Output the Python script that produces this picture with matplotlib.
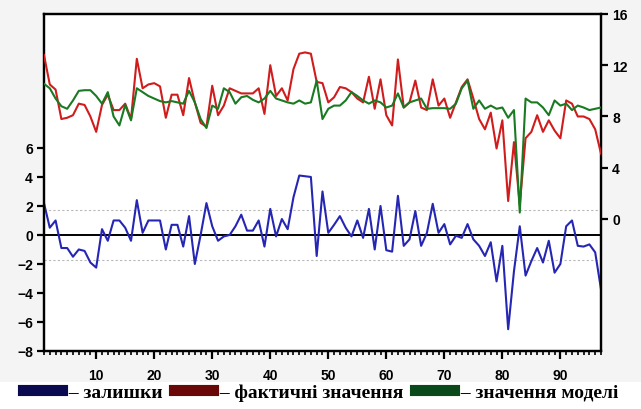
import numpy as np
import matplotlib.pyplot as plt
from matplotlib.patches import Rectangle
from matplotlib.ticker import MultipleLocator

# спостереження 1..97
obs = np.arange(1, 98)

# залишки (ліва вісь)
resid = [2.2, 0.5, 1.0, -0.9, -0.9, -1.5, -1.0, -1.1, -1.9, -2.25,
         0.4, -0.4, 1.0, 1.0, 0.5, -0.4, 2.4, 0.15, 1.0, 1.0,
         1.0, -1.0, 0.7, 0.7, -0.8, 1.3, -2.0, 0.0, 2.2, 0.6,
         -0.4, -0.1, 0.0, 0.6, 1.4, 0.3, 0.3, 1.0, -0.8, 1.8,
         -0.1, 1.1, 0.4, 2.6, 4.1, 4.05, 4.0, -1.45, 3.0, 0.15,
         0.7, 1.3, 0.5, -0.1, 1.0, -0.2, 1.8, -1.0, 2.0, -1.05,
         -1.15, 2.7, -0.75, -0.3, 1.65, -0.75, 0.15, 2.15, 0.15, 0.75,
         -0.65, -0.05, -0.2, 0.75, -0.3, -0.75, -1.45, -0.5, -3.2, -0.75,
         -6.5, -2.5, 0.6, -2.8, -1.8, -0.9, -1.9, -0.4, -2.6, -2.0,
         0.6, 1.0, -0.75, -0.8, -0.65, -1.2, -3.75]

# фактичні значення (права вісь)
actual = [12.8, 10.5, 10.1, 7.8, 7.9, 8.1, 9.0, 8.9, 8.0, 6.8,
          8.9, 9.7, 8.5, 8.5, 9.0, 7.8, 12.5, 10.2, 10.5, 10.6,
          10.35, 7.9, 9.7, 9.7, 8.1, 11.0, 9.1, 7.5, 7.2, 10.4,
          8.1, 8.85, 10.2, 10.0, 9.8, 9.8, 9.8, 10.2, 8.2, 12.0,
          9.6, 10.2, 9.25, 11.7, 12.9, 13.0, 12.9, 10.7, 10.6, 9.1,
          9.5, 10.3, 10.2, 9.9, 9.4, 9.1, 11.1, 8.6, 10.9, 8.1,
          7.3, 12.45, 8.7, 9.1, 10.8, 8.7, 8.5, 10.9, 8.85, 9.4,
          7.9, 9.1, 10.3, 10.9, 9.4, 7.8, 7.0, 8.3, 5.5, 7.7,
          1.4, 6.0, 1.1, 6.3, 6.8, 8.1, 6.8, 7.7, 6.9, 6.3,
          9.25, 9.0, 8.0, 8.0, 7.8, 7.0, 5.1]

# значення моделі (права вісь)
fitted = [10.55, 10.2, 9.4, 8.8, 8.6, 9.25, 10.0, 10.05, 10.05, 9.6,
          9.0, 9.9, 8.0, 7.3, 8.9, 7.7, 10.2, 9.9, 9.6, 9.4,
          9.2, 9.1, 9.2, 9.1, 9.0, 10.0, 9.1, 7.8, 7.1, 8.85,
          8.6, 10.2, 9.9, 9.0, 9.5, 9.6, 9.3, 9.1, 9.4, 10.0,
          9.4, 9.25, 9.1, 9.0, 9.25, 9.0, 9.1, 10.8, 7.8, 8.6,
          8.85, 8.85, 9.25, 9.9, 9.6, 9.25, 9.0, 9.25, 9.1, 8.7,
          8.85, 9.8, 8.7, 9.1, 9.25, 9.4, 8.6, 8.65, 8.65, 8.65,
          8.6, 9.0, 10.2, 10.8, 8.6, 9.25, 8.6, 8.85, 8.6, 8.7,
          7.9, 8.5, 0.5, 9.4, 9.1, 9.1, 8.7, 8.1, 9.25, 8.85,
          9.0, 8.5, 8.85, 8.7, 8.5, 8.6, 8.7]

labels = [' – залишки', ' – фактичні значення', ' – значення моделі']
band = 1.72  # межі +/- стандартне відхилення

plt.rcParams['font.family'] = ['Liberation Sans', 'DejaVu Sans']
plt.rcParams['font.weight'] = 'bold'

fig = plt.figure(figsize=(6.41, 4.10), dpi=100, facecolor='white')
fig.patches.append(Rectangle((0, 0.065), 1, 0.935, transform=fig.transFigure,
                             facecolor='#f4f4f4', edgecolor='none', zorder=-10))
ax = fig.add_axes([0.0686, 0.1415, 0.869, 0.822])
ax2 = ax.twinx()

l1, = ax.plot(obs, resid, color='#2626b4', lw=1.5, zorder=3)
ax.axhline(0, color='black', lw=1.4, zorder=2)
ax.axhline(band, color='#b8b8b8', lw=0.8, ls=(0, (2, 2)), zorder=1)
ax.axhline(-band, color='#b8b8b8', lw=0.8, ls=(0, (2, 2)), zorder=1)

l2, = ax2.plot(obs, actual, color='#d01c1c', lw=1.5, zorder=3)
l3, = ax2.plot(obs, fitted, color='#1a7a22', lw=1.5, zorder=4)

ax.set_xlim(1, 97)
ax.set_ylim(-8, 15.24)
ax2.set_ylim(-10.3, 16)
ax.set_yticks([-8, -6, -4, -2, 0, 2, 4, 6])
ax2.set_yticks([0, 4, 8, 12, 16])
ax.set_xticks(range(10, 91, 10))
ax.xaxis.set_minor_locator(MultipleLocator(1))

for a in (ax, ax2):
    for s in a.spines.values():
        s.set_linewidth(1.6)
    a.tick_params(axis='both', which='major', direction='out', length=5,
                  width=1.6, labelsize=10, pad=3)
ax.tick_params(axis='x', which='minor', direction='out', length=3, width=1.2)
ax.tick_params(axis='x', which='major', length=6, pad=6)
ax.set_facecolor('white')

leg = fig.legend([l1, l2, l3], labels, loc='lower center', ncol=3,
                 bbox_to_anchor=(0.5, -0.022), frameon=False, handlelength=2.0,
                 handletextpad=0.1, columnspacing=0.6,
                 prop={'family': ['Liberation Serif', 'DejaVu Serif'],
                       'weight': 'bold', 'size': 14})
for h, c in zip(leg.legend_handles, ['#0a0a50', '#6a0808', '#0a4a1a']):
    h.set_color(c)
    h.set_linewidth(8)

fig.savefig('out.png', dpi=100, facecolor=fig.get_facecolor())
